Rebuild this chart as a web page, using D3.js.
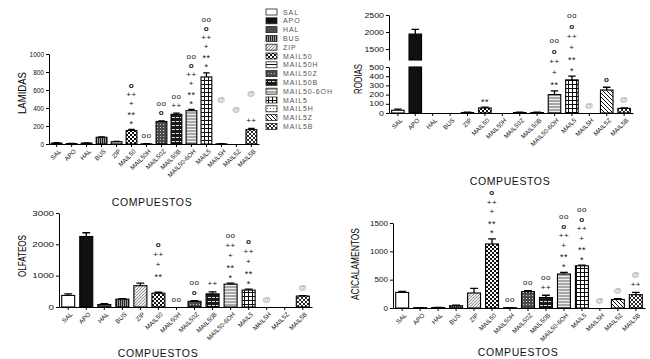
<!DOCTYPE html>
<html>
<head>
<meta charset="utf-8">
<script src="https://cdn.jsdelivr.net/npm/d3@7"></script>
<style>
  body { margin: 0; background: #fff; }
  text { font-family: "Liberation Sans", Arial, sans-serif; }
</style>
</head>
<body>
<script>
// compounds, same order in every panel
const categories = ['SAL', 'APO', 'HAL', 'BUS', 'ZIP', 'MAIL50', 'MAIL50H', 'MAIL50Z', 'MAIL50B', 'MAIL50-6OH', 'MAIL5', 'MAIL5H', 'MAIL5Z', 'MAIL5B'];

// LAMIDAS
const lamidas    = [10, 5, 10, 75, 25, 150, 2, 250, 330, 370, 745, 2, 0, 160];
const lamidasErr = [4, 3, 3, 5, 5, 12, 1, 6, 12, 15, 45, 1, 0, 12];
const lamidasMarks = [[], [], [], [], [], ['*', '**', '+', '++', 'o'], ['oo'], ['o', 'oo'], ['++', 'oo'],
  ['*', '**', '+', '++', 'o', 'oo'], ['*', '**', '+', '++', 'o', 'oo'], ['', '', '', '', '@'], ['', '', '', '@'], ['++', '', '', '@']];

// RODIAS
const rodias    = [30, 1940, 0, 0, 5, 55, 0, 5, 5, 200, 360, 0, 250, 50];
const rodiasErr = [12, 140, 0, 0, 3, 8, 0, 3, 3, 40, 40, 0, 30, 5];
const rodiasMarks = [[], [], [], [], [], ['**'], [], [], [], ['**', '+', '++', 'o', 'oo'],
  ['*', '**', '+', '++', 'o', 'oo'], ['@'], ['o'], ['@']];

// OLFATEOS
const olfateos    = [370, 2250, 80, 250, 680, 440, 0, 180, 420, 730, 540, 0, 0, 350];
const olfateosErr = [50, 120, 30, 15, 80, 30, 0, 20, 60, 30, 30, 0, 0, 15];
const olfateosMarks = [[], [], [], [], [], ['', '**', '+', '++', 'o'], ['oo'], ['o', 'oo'], ['++'],
  ['*', '**', '+', '++', 'oo'], ['*', '**', '+', '++', 'o'], ['@'], [], ['@']];

// ACICALAMENTOS
const acical    = [275, 5, 8, 40, 265, 1130, 5, 290, 185, 600, 745, 0, 150, 235];
const acicalErr = [20, 2, 3, 10, 80, 90, 2, 15, 40, 30, 10, 0, 15, 40];
const acicalMarks = [[], [], [], [], [], ['*', '**', '+', '++', 'o'], ['oo'], ['oo'], ['++', 'oo'],
  ['*', '**', '+', '++', 'o', 'oo'], ['*', '**', '+', '++', 'o', 'oo'], ['@'], ['@'], ['++', '@']];

const svg = d3.select('body').append('svg')
  .attr('width', 650)
  .attr('height', 359);

const defs = svg.append('defs');

function pattern(id, size, bg) {
  const p = defs.append('pattern')
    .attr('id', id)
    .attr('patternUnits', 'userSpaceOnUse')
    .attr('width', size)
    .attr('height', size);
  p.append('rect').attr('width', size).attr('height', size).attr('fill', bg);
  return p;
}

let p;
p = pattern('p-bus', 2, '#9a9a9a');
p.append('rect').attr('width', 1).attr('height', 2).attr('fill', '#222');
p = pattern('p-zip', 3, '#eee');
p.append('path').attr('d', 'M0,3 L3,0').attr('stroke', '#777').attr('stroke-width', 0.8);
p = pattern('p-m50', 4, '#fff');
p.append('rect').attr('width', 2).attr('height', 2).attr('fill', '#111');
p.append('rect').attr('x', 2).attr('y', 2).attr('width', 2).attr('height', 2).attr('fill', '#111');
p = pattern('p-m50h', 4, '#fff');
p.append('rect').attr('width', 4).attr('height', 1).attr('fill', '#111');
p = pattern('p-m50z', 3, '#4a4a4a');
p.append('rect').attr('x', 1).attr('y', 1).attr('width', 1).attr('height', 1).attr('fill', '#ccc');
p = pattern('p-m50b', 4, '#1a1a1a');
p.append('rect').attr('y', 1).attr('width', 3).attr('height', 1).attr('fill', '#ddd');
p = pattern('p-m6oh', 3, '#a8a8a8');
p.append('rect').attr('width', 3).attr('height', 1).attr('fill', '#eee');
p = pattern('p-m5', 4, '#fff');
p.append('rect').attr('width', 4).attr('height', 1).attr('fill', '#111');
p.append('rect').attr('width', 1).attr('height', 4).attr('fill', '#111');
p = pattern('p-m5h', 3, '#fff');
p.append('rect').attr('width', 1).attr('height', 1).attr('fill', '#666');
p = pattern('p-m5z', 4, '#fff');
p.append('path').attr('d', 'M0,0 L4,4 M-1,3 L1,5 M3,-1 L5,1').attr('stroke', '#111').attr('stroke-width', 1);
p = pattern('p-m5b', 4, '#fff');
p.append('path').attr('d', 'M0,0 L4,4 M4,0 L0,4').attr('stroke', '#111').attr('stroke-width', 0.9);

const fills = ['#fff', '#111', '#4d4d4d', 'url(#p-bus)', 'url(#p-zip)', 'url(#p-m50)', 'url(#p-m50h)',
  'url(#p-m50z)', 'url(#p-m50b)', 'url(#p-m6oh)', 'url(#p-m5)', 'url(#p-m5h)', 'url(#p-m5z)', 'url(#p-m5b)'];

function drawPanel(cfg) {
  const g = svg.append('g');
  const x = d3.scaleBand()
    .domain(categories)
    .range([cfg.x0, cfg.x1])
    .paddingInner(0.28)
    .paddingOuter(0.15);

  // y scales (a panel may have a broken axis: lower + upper part)
  const yLow = d3.scaleLinear().domain(cfg.domain).range([cfg.y0, cfg.yTop]);
  const yUp = cfg.upper ? d3.scaleLinear().domain(cfg.upper.domain).range(cfg.upper.range) : null;
  const yPos = v => {
    if (!yUp || v <= cfg.domain[1]) return yLow(Math.min(v, cfg.domain[1]));
    if (v >= cfg.upper.domain[0]) return yUp(v);
    return yLow(cfg.domain[1]);
  };

  const rows = categories.map((c, i) => ({ c, i, v: cfg.values[i], e: cfg.errs[i], m: cfg.marks[i] }));

  // bars
  rows.forEach(d => {
    const top = Math.min(d.v, cfg.domain[1]);
    if (d.v > 0) {
      g.append('rect')
        .attr('x', x(d.c))
        .attr('y', yLow(top))
        .attr('width', x.bandwidth())
        .attr('height', cfg.y0 - yLow(top))
        .attr('fill', fills[d.i])
        .attr('stroke', '#000')
        .attr('stroke-width', 1.1);
    }
    if (yUp && d.v > cfg.upper.domain[0]) {
      g.append('rect')
        .attr('x', x(d.c))
        .attr('y', yUp(d.v))
        .attr('width', x.bandwidth())
        .attr('height', yUp(cfg.upper.domain[0]) - yUp(d.v))
        .attr('fill', fills[d.i])
        .attr('stroke', '#000')
        .attr('stroke-width', 1.1);
    }
    // error bars
    if (d.e > 0) {
      const cx = x(d.c) + x.bandwidth() / 2;
      const cap = x.bandwidth() * 0.3;
      g.append('path')
        .attr('d', `M${cx},${yPos(d.v)} V${yPos(d.v + d.e)} M${cx - cap},${yPos(d.v + d.e)} H${cx + cap}`)
        .attr('stroke', '#000')
        .attr('stroke-width', 1.3)
        .attr('fill', 'none');
    }
    // significance marks, stacked upwards
    const base = yPos(d.v + d.e) - 8;
    d.m.forEach((s, k) => {
      if (!s) return;
      g.append('text')
        .attr('x', x(d.c) + x.bandwidth() / 2)
        .attr('y', base - k * cfg.lineH + (s.includes('*') ? 2.5 : 0))
        .attr('text-anchor', 'middle')
        .attr('dominant-baseline', 'central')
        .style('font-size', s.includes('*') ? '9px' : '8px')
        .style('font-weight', s === 'o' ? 'bold' : 'normal')
        .style('fill', s === '@' ? '#999' : '#111')
        .style('letter-spacing', '0.5px')
        .text(s);
    });
  });

  // y axis (tick labels are drawn a bit wider in some panels of the original)
  const yAxisStyle = sel => {
    sel.selectAll('text')
      .style('font-size', '6.5px')
      .style('fill', '#111')
      .each(function () {
        const w = this.getComputedTextLength();
        d3.select(this).attr('textLength', w * cfg.tickStretch).attr('lengthAdjust', 'spacingAndGlyphs');
      });
    sel.selectAll('line, path').attr('stroke', '#000');
  };
  g.append('g')
    .attr('transform', `translate(${cfg.x0},0)`)
    .call(d3.axisLeft(yLow).tickValues(cfg.ticks).tickFormat(d3.format('d'))
      .tickSize(3).tickSizeOuter(0).tickPadding(2))
    .call(yAxisStyle);
  if (yUp) {
    g.append('g')
      .attr('transform', `translate(${cfg.x0},0)`)
      .call(d3.axisLeft(yUp).tickValues(cfg.upper.ticks).tickFormat(d3.format('d'))
        .tickSize(3).tickSizeOuter(0).tickPadding(2))
      .call(yAxisStyle);
  }

  // x axis
  const xa = g.append('g')
    .attr('transform', `translate(0,${cfg.y0})`)
    .call(d3.axisBottom(x).tickSize(3).tickSizeOuter(0));
  xa.selectAll('line, path').attr('stroke', '#000');
  xa.selectAll('text')
    .attr('x', 0)
    .attr('y', 0)
    .attr('dy', null)
    .attr('text-anchor', 'end')
    .attr('dominant-baseline', 'central')
    .attr('transform', 'translate(3,6) rotate(-45)')
    .style('font-size', '6.3px')
    .style('fill', '#111');

  // titles
  g.append('text')
    .attr('transform', `translate(${cfg.labelX},${cfg.labelY}) rotate(-90)`)
    .attr('text-anchor', 'middle')
    .attr('dominant-baseline', 'central')
    .attr('textLength', cfg.labelLen)
    .attr('lengthAdjust', 'spacingAndGlyphs')
    .style('font-size', '10.5px')
    .style('fill', '#000')
    .text(cfg.yLabel);
  g.append('text')
    .attr('x', cfg.titleX)
    .attr('y', cfg.titleY)
    .attr('text-anchor', 'middle')
    .attr('dominant-baseline', 'central')
    .style('font-size', '10.5px')
    .style('letter-spacing', '0.6px')
    .style('fill', '#111')
    .text('COMPUESTOS');
}

drawPanel({
  values: lamidas, errs: lamidasErr, marks: lamidasMarks, lineH: 9, tickStretch: 1.0,
  x0: 49, x1: 259, y0: 144, yTop: 54, domain: [0, 1000], ticks: [0, 200, 400, 600, 800, 1000],
  yLabel: 'LAMIDAS', labelX: 22, labelY: 93, labelLen: 42, titleX: 152, titleY: 202
});

drawPanel({
  values: rodias, errs: rodiasErr, marks: rodiasMarks, lineH: 10.5, tickStretch: 1.35,
  x0: 389, x1: 633, y0: 113, yTop: 67, domain: [0, 500], ticks: [0, 100, 200, 300, 400, 500],
  upper: { domain: [1180, 2500], range: [60, 15], ticks: [1500, 2000, 2500] },
  yLabel: 'RODIAS', labelX: 358, labelY: 79, labelLen: 30, titleX: 510, titleY: 181
});

drawPanel({
  values: olfateos, errs: olfateosErr, marks: olfateosMarks, lineH: 10, tickStretch: 1.5,
  x0: 59, x1: 312, y0: 307, yTop: 213, domain: [0, 3000], ticks: [0, 1000, 2000, 3000],
  yLabel: 'OLFATEOS', labelX: 22, labelY: 256, labelLen: 42, titleX: 158, titleY: 353
});

drawPanel({
  values: acical, errs: acicalErr, marks: acicalMarks, lineH: 9.5, tickStretch: 1.25,
  x0: 393, x1: 645, y0: 308, yTop: 223, domain: [0, 1500], ticks: [0, 500, 1000, 1500],
  yLabel: 'ACICALAMENTOS', labelX: 355, labelY: 264, labelLen: 72, titleX: 518, titleY: 352
});

// legend
const legend = svg.append('g');
categories.forEach((c, i) => {
  const y = 12 + i * 8.8;
  legend.append('rect')
    .attr('x', 266)
    .attr('y', y - 3)
    .attr('width', 11)
    .attr('height', 6)
    .attr('fill', fills[i])
    .attr('stroke', '#222')
    .attr('stroke-width', 0.8);
  legend.append('text')
    .attr('x', 283)
    .attr('y', y)
    .attr('dominant-baseline', 'central')
    .style('font-size', '7px')
    .style('letter-spacing', '0.9px')
    .style('fill', '#555')
    .text(c);
});
</script>
</body>
</html>
